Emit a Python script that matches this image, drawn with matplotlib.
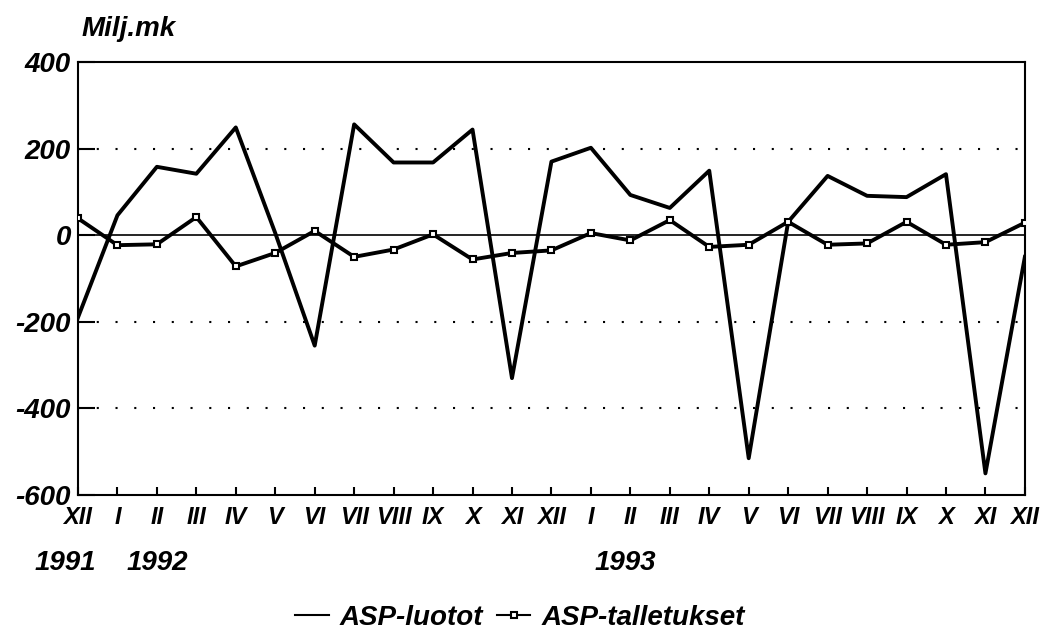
import numpy as np
import matplotlib.pyplot as plt

plt.rcParams['font.family'] = ['Liberation Sans', 'DejaVu Sans']
plt.rcParams['axes.unicode_minus'] = False

# kuukaudet XII 1991 - XII 1993
months = ['XII', 'I', 'II', 'III', 'IV', 'V', 'VI', 'VII', 'VIII', 'IX', 'X', 'XI',
          'XII', 'I', 'II', 'III', 'IV', 'V', 'VI', 'VII', 'VIII', 'IX', 'X', 'XI', 'XII']
years = ['1991', '1992', '1993']
year_pos = [-0.33, 2.0, 13.86]

luotot = [-190, 46, 158, 142, 249, 5, -255, 256, 168, 168, 244, -330,
          170, 202, 93, 63, 149, -515, 31, 137, 91, 88, 141, -550, -50]
talletukset = [39, -23, -21, 42, -72, -41, 10, -50, -33, 2, -56, -41,
               -35, 5, -12, 35, -27, -22, 31, -22, -19, 31, -22, -16, 29]

x = np.arange(len(months))

fig = plt.figure(figsize=(10.58, 6.33), dpi=100)
ax = fig.add_axes([0.0737, 0.218, 0.895, 0.684])

ax.plot(x, luotot, color='black', lw=2.8, label='ASP-luotot', zorder=3)
ax.plot(x, talletukset, color='black', lw=2.8, marker='s', markersize=5,
        markerfacecolor='white', markeredgecolor='black', markeredgewidth=1.5,
        label='ASP-talletukset', zorder=4)

ax.axhline(0, color='black', lw=1.2, zorder=2)
for v in [200, -200, -400]:
    ax.axhline(v, color='black', lw=1.5, ls=(0, (1, 8)), zorder=1)

ax.set_xlim(0, 24)
ax.set_ylim(-600, 400)
ax.set_yticks([400, 200, 0, -200, -400, -600])
ax.set_xticks(x)
ax.set_xticklabels(months, fontsize=17, fontweight='bold', fontstyle='italic')
ax.tick_params(axis='y', direction='in', length=12, width=1.5, labelsize=20, pad=5)
ax.tick_params(axis='x', direction='in', length=6, width=1.5, pad=8)
for lab in ax.get_yticklabels():
    lab.set_fontweight('bold')
    lab.set_fontstyle('italic')
for s in ax.spines.values():
    s.set_linewidth(1.5)

for yr, p in zip(years, year_pos):
    ax.text(p, -0.157, yr, transform=ax.get_xaxis_transform(), ha='center', va='center',
            fontsize=20, fontweight='bold', fontstyle='italic')

fig.text(82 / 1058, 1 - 29 / 633, 'Milj.mk', ha='left', va='center',
         fontsize=20, fontweight='bold', fontstyle='italic')

leg = fig.legend(loc='center', bbox_to_anchor=(520 / 1058, 1 - 618 / 633), ncol=2, frameon=False,
                 prop={'size': 20, 'weight': 'bold', 'style': 'italic'},
                 handlelength=1.2, handletextpad=0.4, columnspacing=0.5,
                 borderpad=0.1)
leg.get_lines()[0].set_linewidth(1.5)
leg.get_lines()[1].set_linewidth(1.5)

plt.savefig('out.png', dpi=100)
